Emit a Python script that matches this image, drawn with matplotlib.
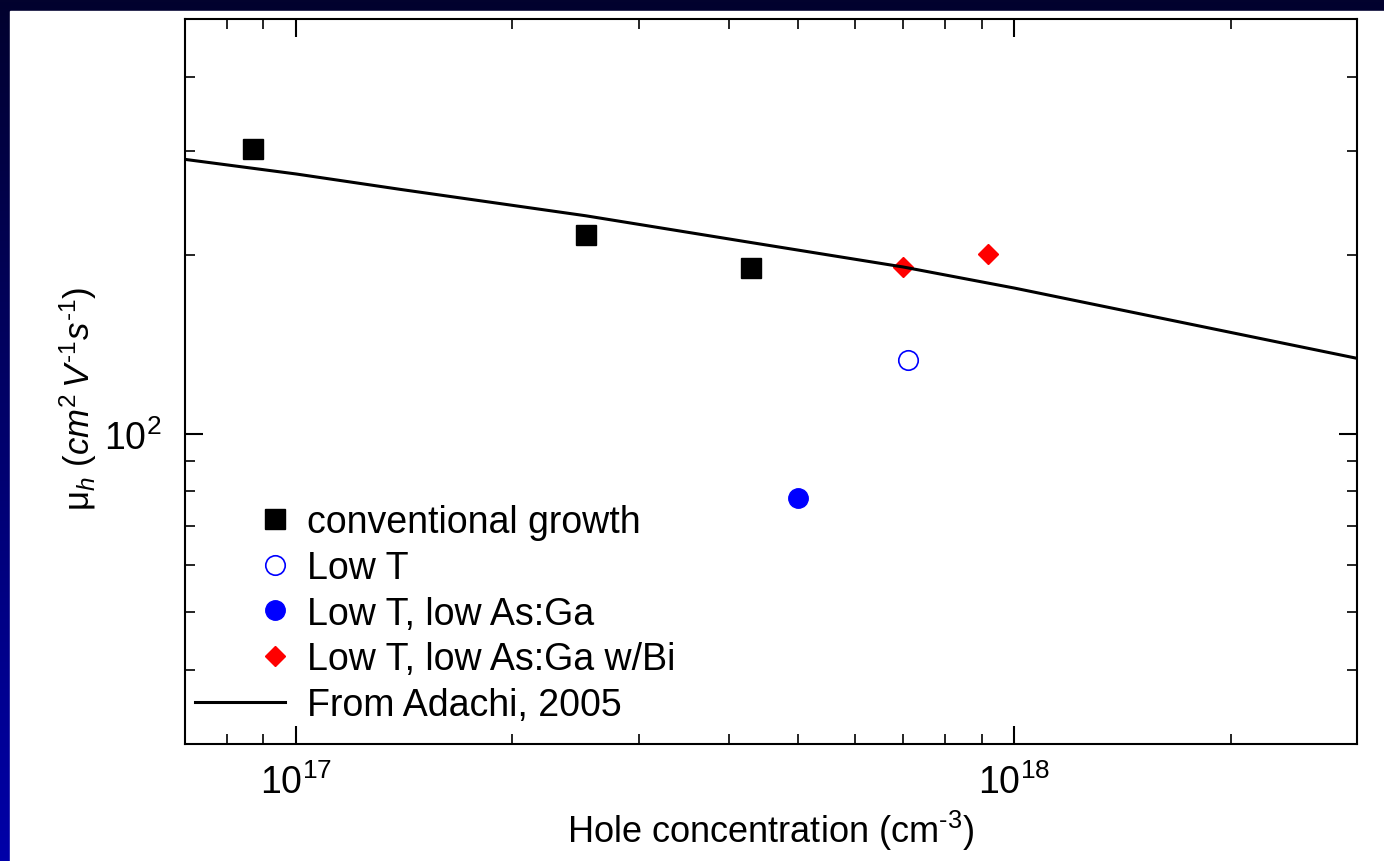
import numpy as np
import matplotlib
matplotlib.use("Agg")
import matplotlib.pyplot as plt
from matplotlib.legend_handler import HandlerLine2D
from matplotlib.ticker import NullFormatter, LogLocator

plt.rcParams['font.family'] = ['Liberation Sans', 'DejaVu Sans']
plt.rcParams['mathtext.fontset'] = 'custom'
plt.rcParams['mathtext.rm'] = 'Liberation Sans'
plt.rcParams['mathtext.it'] = 'Liberation Sans:italic'
plt.rcParams['mathtext.default'] = 'regular'

# data
conv_x = [8.7e16, 2.53e17, 4.3e17]
conv_y = [302, 216, 190]
lowt_x = [7.1e17]
lowt_y = [133]
lowt_as_x = [5.0e17]
lowt_as_y = [78]
bi_x = [7.0e17, 9.2e17]
bi_y = [191, 201]
adachi_x = [7.0e16, 1.0e17, 1.4e17, 2.53e17, 4.3e17, 7.0e17, 1.0e18, 3.0e18]
adachi_y = [290, 274, 258, 233, 210, 191, 176, 134]


class RightMarker(HandlerLine2D):
    # put the single legend marker near the right end of the handle
    def get_xdata(self, legend, xdescent, ydescent, width, height, fontsize):
        xm = -xdescent + 0.89 * width
        return np.array([xm - 1, xm + 1]), np.array([xm])


fig = plt.figure(figsize=(13.84, 8.62), dpi=100)

# slide background: blue gradient strips on top and left
bg = fig.add_axes([0, 0, 1, 1])
grad = np.linspace(0, 1, 256).reshape(-1, 1)
cmap = matplotlib.colors.LinearSegmentedColormap.from_list("slide", ["#02022e", "#0000a8"])
bg.imshow(grad, aspect='auto', cmap=cmap, extent=[0, 1, 0, 1], origin='upper')
bg.add_patch(plt.Rectangle((10 / 1384, 0), 1, 1 - 12 / 862, color='white', zorder=2))
bg.set_xlim(0, 1)
bg.set_ylim(0, 1)
bg.axis('off')

ax = fig.add_axes([185 / 1384, 1 - 745 / 862, (1357 - 185) / 1384, (745 - 20) / 862])
ax.set_facecolor('none')

h1, = ax.plot(conv_x, conv_y, ls='none', marker='s', ms=14, color='black', label='conventional growth')
h2, = ax.plot(lowt_x, lowt_y, ls='none', marker='o', ms=14, mfc='white', mec='blue', mew=1.2, label='Low T')
h3, = ax.plot(lowt_as_x, lowt_as_y, ls='none', marker='o', ms=14, color='blue', label='Low T, low As:Ga')
h4, = ax.plot(bi_x, bi_y, ls='none', marker='D', ms=10, color='red', label='Low T, low As:Ga w/Bi')
h5, = ax.plot(adachi_x, adachi_y, color='black', lw=2.2, label='From Adachi, 2005')

ax.set_xscale('log')
ax.set_yscale('log')
ax.set_xlim(7e16, 3e18)
ax.set_ylim(30, 500)

ax.xaxis.set_minor_locator(LogLocator(base=10, subs=np.arange(2, 10)))
ax.yaxis.set_minor_locator(LogLocator(base=10, subs=np.arange(2, 10)))
ax.xaxis.set_minor_formatter(NullFormatter())
ax.yaxis.set_minor_formatter(NullFormatter())

ax.tick_params(which='both', direction='in', top=True, right=True, labelsize=27)
ax.tick_params(which='major', length=13, width=1.5)
ax.tick_params(axis='x', which='major', pad=14)
ax.tick_params(axis='y', which='major', pad=17)
ax.tick_params(which='minor', length=7, width=1.2)
for s in ax.spines.values():
    s.set_linewidth(1.5)

ax.set_xlabel(r'Hole concentration (cm$^{\text{-}3}$)', fontsize=26, labelpad=5)
ax.set_ylabel(r'$\mu_{\mathit{h}}$ ($\mathit{cm}^2\,\mathit{V}^{\text{-}1}\mathit{s}^{\text{-}1}$)',
              fontsize=25)
ax.yaxis.set_label_coords(-0.073, 0.477)

mk = RightMarker()
ax.legend(handles=[h1, h2, h3, h4, h5], loc='lower left', frameon=False, fontsize=27,
          handlelength=2.4, handletextpad=0.6, labelspacing=0.26,
          borderaxespad=0, borderpad=0.2, bbox_to_anchor=(0.002, 0.0185),
          handler_map={h1: mk, h2: mk, h3: mk, h4: mk})

fig.savefig('out.png', dpi=100)
